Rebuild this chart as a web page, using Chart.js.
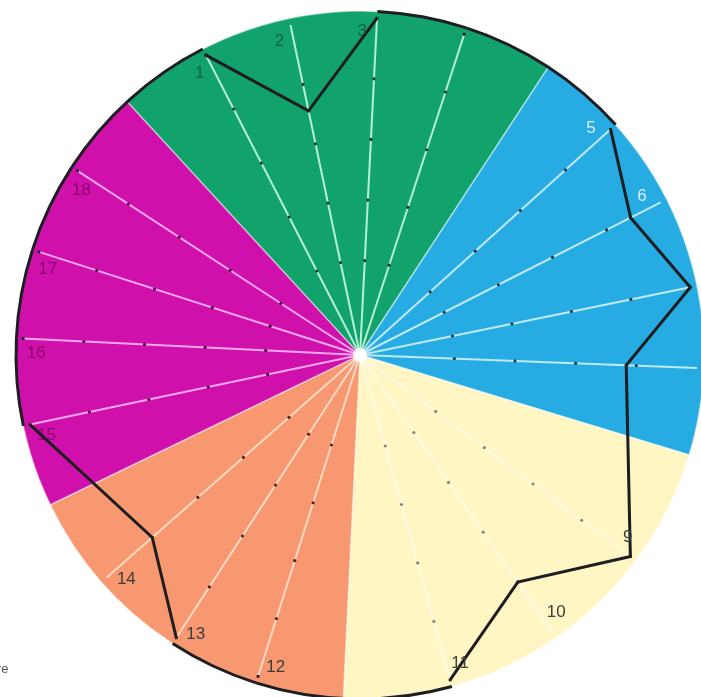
<!DOCTYPE html>
<html>
<head>
<meta charset="utf-8">
<script src="https://cdn.jsdelivr.net/npm/chart.js@4.4.0/dist/chart.umd.min.js"></script>
<style>
html, body { margin: 0; padding: 0; background: #fff; overflow: hidden; }
#wrap { position: relative; width: 701px; height: 697px; overflow: hidden; }
#wrap canvas { position: absolute; left: 5px; top: 0; }
.note { position: absolute; left: -3px; top: 661px; font: 13px "Liberation Sans", Arial, sans-serif; color: #555; }
</style>
</head>
<body>
<div id="wrap">
  <canvas id="sectors" width="710" height="710"></canvas>
  <canvas id="rim" width="710" height="710"></canvas>
  <canvas id="profile" width="710" height="710"></canvas>
  <div class="note">re</div>
</div>
<script>
// colour sectors, clockwise from the magenta/green border (degrees)
const groupNames = ['vert', 'bleu', 'jaune', 'orange', 'magenta'];
const groupSpans = [75.8, 73.7, 75.9, 61.4, 73.2];
const startAngle = -42.6;

// the 18 spokes: label, angle (clockwise from top), sector, value of the profile (rim = 100)
const spokeLabels = ['1', '2', '3', '4', '5', '6', '7', '8', '9', '10', '11', '12', '13', '14', '15', '16', '17', '18'];
const spokeAngles = [-27.2, -11.9, 2.9, 18, 48, 63.1, 78.4, 92.2, 126.7, 145.2, 164.5, 197.6, 213, 228.7, 258.1, 272.8, 287.8, 303.1];
const spokeGroups = [0, 0, 0, 0, 1, 1, 1, 1, 2, 2, 2, 3, 3, 3, 4, 4, 4, 4];
const profileValues = [100, 74, 100, 100, 100, 90, 100, 79, 100, 82, 100, 100, 100, 82, 100, 100, 100, 100];
// numbers that cannot be seen on the scan
const hiddenLabels = ['4', '7', '8'];

// graduation dots along each spoke
const gridLevels = [28, 46, 64, 82];

const rimValue = 100;

// couleurs
const sectorColors = ['#12a36c', '#26ace2', '#fff6c4', '#f79870', '#d010aa'];
const spokeColors = ['#b5f0d6', '#bfe9f8', 'rgba(255,255,255,0.5)', '#fcd9c4', '#f6a6ea'];
const dotColors = ['#1f3a2c', '#1d3a4a', '#8a8878', '#4a2a20', '#4a1040'];
const labelColors = ['rgba(20,50,35,0.6)', 'rgba(235,245,250,0.9)', '#3d3d3d', '#3d3d3d', 'rgba(90,0,70,0.6)'];
const lineColor = '#1e1e22';

const rimPx = 344;          // rayon du cercle en pixels
const halfPx = 355;         // demi-taille du canvas
const range = halfPx / rimPx * rimValue;
const n = spokeAngles.length;

function polar(value, angle) {
    const a = angle * Math.PI / 180;
    return { x: value * Math.sin(a), y: value * Math.cos(a) };
}

function onRim(i, j) {
    return profileValues[i % n] === rimValue && profileValues[j % n] === rimValue;
}

// secteurs colorés
new Chart(document.getElementById('sectors'), {
    type: 'pie',
    data: {
        labels: groupNames,
        datasets: [{
            data: groupSpans,
            backgroundColor: sectorColors,
            borderColor: 'rgba(255,255,255,0.45)',
            borderWidth: 1.5
        }]
    },
    options: {
        responsive: false,
        animation: false,
        events: [],
        rotation: startAngle,
        radius: rimPx,
        plugins: { legend: { display: false }, tooltip: { enabled: false } }
    }
});

// portions du profil qui suivent le bord du cercle
const gaps = spokeAngles.map((a, i) => (i < n - 1 ? spokeAngles[i + 1] : spokeAngles[0] + 360) - a);
new Chart(document.getElementById('rim'), {
    type: 'doughnut',
    data: {
        labels: spokeLabels,
        datasets: [{
            data: gaps,
            backgroundColor: gaps.map((g, i) => onRim(i, i + 1) ? lineColor : 'rgba(0,0,0,0)'),
            borderWidth: 0
        }]
    },
    options: {
        responsive: false,
        animation: false,
        events: [],
        rotation: spokeAngles[0],
        radius: rimPx + 1.5,
        cutout: ((rimPx - 1.5) / (rimPx + 1.5) * 100) + '%',
        plugins: { legend: { display: false }, tooltip: { enabled: false } }
    }
});

// rayons, points de graduation, profil
const datasets = [];

const profile = spokeAngles.map((a, i) => polar(profileValues[i], a));
profile.push(profile[0]);
datasets.push({
    data: profile,
    showLine: true,
    borderColor: lineColor,
    borderWidth: 3,
    segment: {
        borderColor: c => onRim(c.p0DataIndex, c.p1DataIndex) ? 'rgba(0,0,0,0)' : lineColor
    },
    pointRadius: 2,
    pointStyle: 'rect',
    pointBackgroundColor: '#222',
    pointBorderWidth: 0,
    order: 0
});

const dots = [];
const dotFill = [];
spokeAngles.forEach((a, i) => {
    gridLevels.forEach(v => {
        dots.push(polar(v, a));
        dotFill.push(dotColors[spokeGroups[i]]);
    });
});
datasets.push({
    data: dots,
    showLine: false,
    pointRadius: 1.6,
    pointBackgroundColor: dotFill,
    pointBorderWidth: 0,
    order: 1
});

datasets.push({
    data: [{ x: 0, y: 0 }],
    pointRadius: 7,
    pointBackgroundColor: 'rgba(255,255,255,0.95)',
    pointBorderWidth: 0,
    order: 2
});

spokeAngles.forEach((a, i) => {
    datasets.push({
        data: [{ x: 0, y: 0 }, polar(rimValue, a)],
        showLine: true,
        borderColor: spokeColors[spokeGroups[i]],
        borderWidth: 2,
        pointRadius: 0,
        order: 3
    });
});

const labelPlugin = {
    id: 'spokeLabels',
    afterDatasetsDraw(chart) {
        const { ctx, scales: { x, y } } = chart;
        ctx.save();
        ctx.font = '17px "Liberation Sans", Arial, sans-serif';
        ctx.textAlign = 'center';
        ctx.textBaseline = 'middle';
        spokeLabels.forEach((lab, i) => {
            if (hiddenLabels.includes(lab)) return;
            const p = polar(96, spokeAngles[i] - 2.5);
            ctx.fillStyle = labelColors[spokeGroups[i]];
            ctx.fillText(lab, x.getPixelForValue(p.x), y.getPixelForValue(p.y));
        });
        ctx.restore();
    }
};

new Chart(document.getElementById('profile'), {
    type: 'scatter',
    data: { datasets: datasets },
    options: {
        responsive: false,
        animation: false,
        events: [],
        layout: { padding: 0 },
        scales: {
            x: { type: 'linear', min: -range, max: range, display: false },
            y: { type: 'linear', min: -range, max: range, display: false }
        },
        plugins: { legend: { display: false }, tooltip: { enabled: false } }
    },
    plugins: [labelPlugin]
});
</script>
</body>
</html>
